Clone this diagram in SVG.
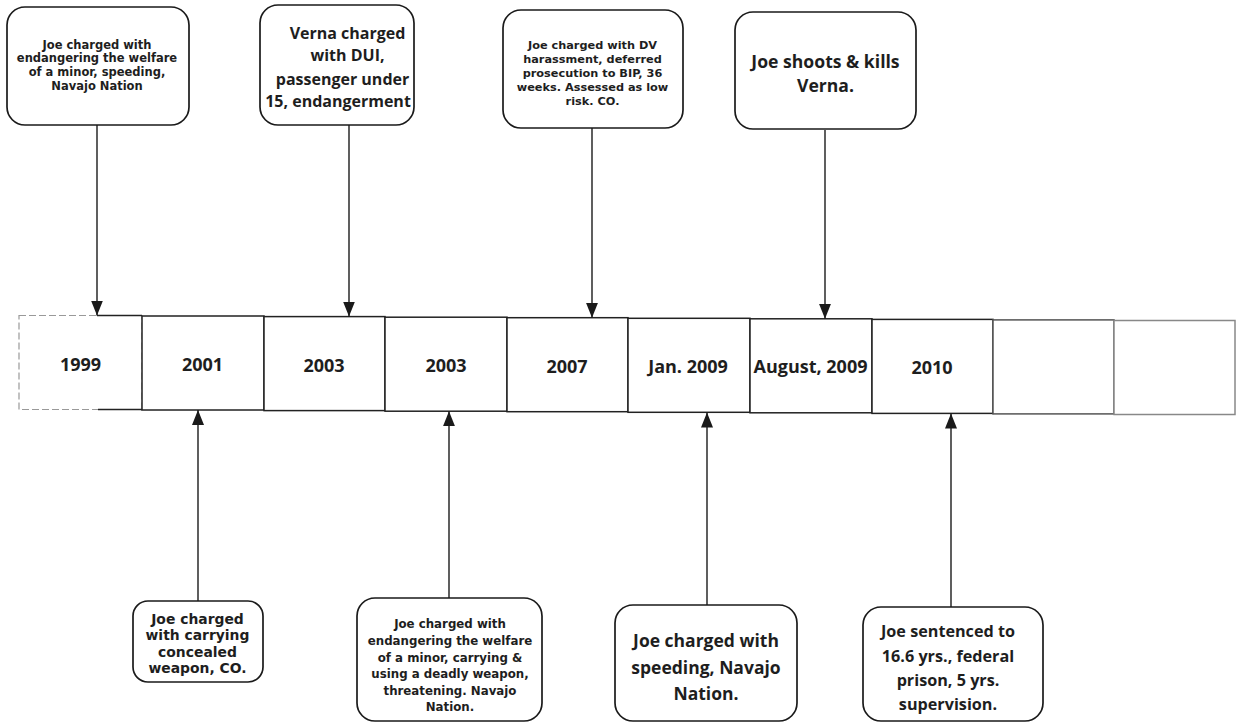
<svg xmlns="http://www.w3.org/2000/svg" width="1237" height="723" viewBox="0 0 1237 723">
<style>
.box{fill:#fff;stroke:#1a1a1a;stroke-width:1.7}
.cell{fill:#fff;stroke:#222;stroke-width:1.5}
.t{font-family:"Open Sans","Liberation Sans",sans-serif;font-weight:bold;fill:#1e1e1e;text-anchor:middle}
.sm{font-family:"DejaVu Sans","Liberation Sans",sans-serif;font-weight:bold;fill:#1e1e1e;text-anchor:middle}
.d{font-size:18px}
.con{stroke:#1a1a1a;stroke-width:1.4;fill:none}
</style>
<defs>
<marker id="ah" viewBox="0 0 15 12" refX="15" refY="6" markerWidth="15" markerHeight="12" markerUnits="userSpaceOnUse" orient="auto">
<path d="M0,0 L15,6 L0,12 Z" fill="#1a1a1a"/>
</marker>
</defs>
<rect width="1237" height="723" fill="#fff"/>

<g id="timeline">
<rect class="cell" x="19" y="315.5" width="123" height="94" style="stroke:#999;stroke-width:1.2;stroke-dasharray:7 3"/>
<line x1="97" y1="315.5" x2="142" y2="315.5" stroke="#222" stroke-width="1.5"/>
<line x1="98" y1="409.5" x2="142" y2="409.5" stroke="#222" stroke-width="1.5"/>
<rect class="cell" x="142" y="316" width="122" height="94"/>
<rect class="cell" x="264" y="316.6" width="121" height="94"/>
<rect class="cell" x="385" y="317.2" width="122" height="94"/>
<rect class="cell" x="507" y="317.7" width="121" height="94"/>
<rect class="cell" x="628" y="318.3" width="122" height="94"/>
<rect class="cell" x="750" y="318.8" width="122" height="94"/>
<rect class="cell" x="872" y="319.4" width="121" height="94"/>
<rect class="cell" x="993" y="319.9" width="121" height="94" style="stroke:#555"/>
<rect class="cell" x="1114" y="320.5" width="121" height="94" style="stroke:#888"/>
<text class="t d" x="80.5" y="371">1999</text>
<text class="t d" x="202.5" y="371">2001</text>
<text class="t d" x="324" y="371.5">2003</text>
<text class="t d" x="446" y="372">2003</text>
<text class="t d" x="567" y="372.5">2007</text>
<text class="t d" x="688" y="372.5">Jan. 2009</text>
<text class="t d" x="810.5" y="373">August, 2009</text>
<text class="t d" x="932" y="373.5">2010</text>
</g>

<g id="connectors">
<line class="con" x1="97" y1="125" x2="97" y2="315.5" marker-end="url(#ah)"/>
<line class="con" x1="349" y1="125" x2="349" y2="316.5" marker-end="url(#ah)"/>
<line class="con" x1="592" y1="128" x2="592" y2="317.8" marker-end="url(#ah)"/>
<line class="con" x1="825" y1="130" x2="825" y2="318.8" marker-end="url(#ah)"/>
<line class="con" x1="198" y1="601" x2="198" y2="410" marker-end="url(#ah)"/>
<line class="con" x1="449" y1="598" x2="449" y2="411.2" marker-end="url(#ah)"/>
<line class="con" x1="707" y1="605" x2="707" y2="412.5" marker-end="url(#ah)"/>
<line class="con" x1="951" y1="607" x2="951" y2="413.5" marker-end="url(#ah)"/>
</g>

<g id="n1999">
<rect class="box" x="7" y="7" width="182" height="118" rx="18"/>
<text class="sm" style="font-size:11.5px"><tspan x="97" y="48.5">Joe charged with</tspan><tspan x="97" y="62.2">endangering the welfare</tspan><tspan x="97" y="75.9">of a minor, speeding,</tspan><tspan x="97" y="89.6">Navajo Nation</tspan></text>
</g>

<g id="n2003a">
<rect class="box" x="260" y="5" width="154" height="120" rx="18"/>
<text class="t" style="font-size:16px"><tspan x="347.5" y="38.5">Verna charged</tspan><tspan x="347.5" y="60.5">with DUI,</tspan><tspan x="342.5" y="84.5">passenger under</tspan><tspan x="338" y="106.5">15, endangerment</tspan></text>
</g>

<g id="n2007">
<rect class="box" x="503" y="10" width="180" height="118" rx="18"/>
<text class="sm" style="font-size:11.3px"><tspan x="592.5" y="48.5">Joe charged with DV</tspan><tspan x="592.5" y="62.5">harassment, deferred</tspan><tspan x="592.5" y="76.5">prosecution to BIP, 36</tspan><tspan x="592.5" y="90.5">weeks. Assessed as low</tspan><tspan x="592.5" y="104.5">risk. CO.</tspan></text>
</g>

<g id="n2009aug">
<rect class="box" x="735" y="12" width="181" height="117" rx="18"/>
<text class="t" style="font-size:17.6px"><tspan x="825.5" y="67.5">Joe shoots &amp; kills</tspan><tspan x="825.5" y="91.8">Verna.</tspan></text>
</g>

<g id="n2001">
<rect class="box" x="133" y="601" width="130" height="81" rx="15"/>
<text class="sm" style="font-size:13.9px"><tspan x="197.5" y="623.5">Joe charged</tspan><tspan x="197.5" y="640">with carrying</tspan><tspan x="197.5" y="656.5">concealed</tspan><tspan x="197.5" y="673">weapon, CO.</tspan></text>
</g>

<g id="n2003b">
<rect class="box" x="357" y="598" width="185" height="123" rx="18"/>
<text class="sm" style="font-size:11.8px"><tspan x="450" y="627.5">Joe charged with</tspan><tspan x="450" y="645">endangering the welfare</tspan><tspan x="450" y="661.5">of a minor, carrying &amp;</tspan><tspan x="450" y="678">using a deadly weapon,</tspan><tspan x="450" y="694.5">threatening. Navajo</tspan><tspan x="450" y="711">Nation.</tspan></text>
</g>

<g id="n2009jan">
<rect class="box" x="615" y="605" width="182" height="116" rx="18"/>
<text class="t" style="font-size:17.5px"><tspan x="706" y="647">Joe charged with</tspan><tspan x="706" y="674">speeding, Navajo</tspan><tspan x="706" y="700">Nation.</tspan></text>
</g>

<g id="n2010">
<rect class="box" x="863" y="607" width="180" height="114" rx="18"/>
<text class="t" style="font-size:16.2px"><tspan x="948" y="637">Joe sentenced to</tspan><tspan x="948" y="662">16.6 yrs., federal</tspan><tspan x="948" y="686">prison, 5 yrs.</tspan><tspan x="948" y="710">supervision.</tspan></text>
</g>
</svg>
